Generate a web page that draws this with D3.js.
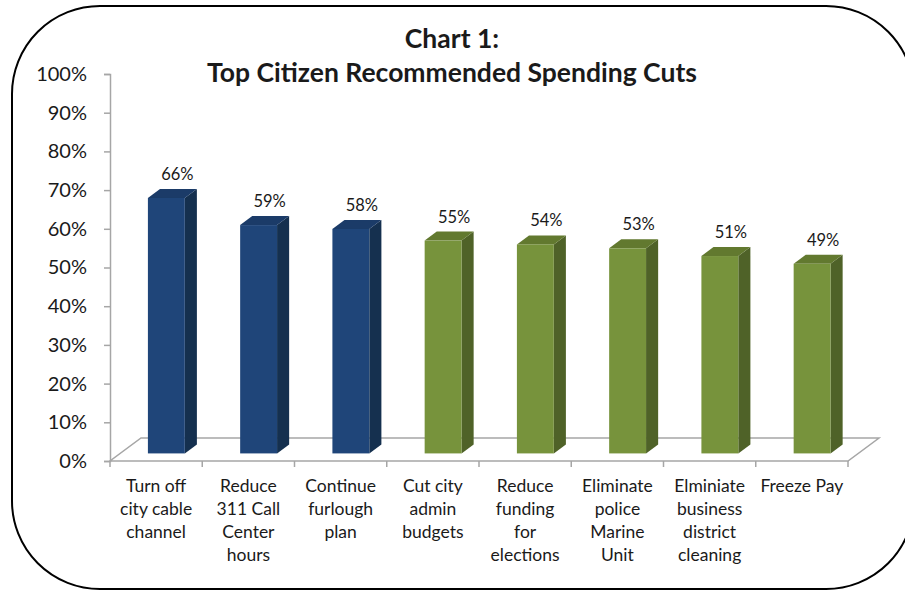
<!DOCTYPE html>
<html>
<head>
<meta charset="utf-8">
<script src="https://cdn.jsdelivr.net/npm/d3@7"></script>
<style>
	body { margin: 0; background: #fff; }
	text { font-family: Lato, "Open Sans", sans-serif; fill: #1a1a1a; }
</style>
</head>
<body>
<div id="chart"></div>
<script>
var categories = [
	["Turn off", "city cable", "channel"],
	["Reduce", "311 Call", "Center", "hours"],
	["Continue", "furlough", "plan"],
	["Cut city", "admin", "budgets"],
	["Reduce", "funding", "for", "elections"],
	["Eliminate", "police", "Marine", "Unit"],
	["Elminiate", "business", "district", "cleaning"],
	["Freeze Pay"]
];
var values = [0.66, 0.59, 0.58, 0.55, 0.54, 0.53, 0.51, 0.49];
var groups = ["blue", "blue", "blue", "green", "green", "green", "green", "green"];
var yTicks = [0, 0.1, 0.2, 0.3, 0.4, 0.5, 0.6, 0.7, 0.8, 0.9, 1.0];
var titleLines = ["Chart 1:", "Top Citizen Recommended Spending Cuts"];

(function() {
	var colors = {
		blue: { front: "#1f4579", side: "#15304f", top: "#1b3b68" },
		green: { front: "#77933c", side: "#4f6228", top: "#62792f" }
	};

	var width = 905, height = 590;
	var pLeft = 110, pRight = 848, pTop = 74, pBottom = 461;
	var depth = { dx: 31, dy: -23 };   // floor depth vector
	var z0 = 0.33, z1 = 0.72;          // bar depth, as fraction of floor

	var svg = d3.select("#chart").append("svg")
		.attr("width", width)
		.attr("height", height);

	// rounded frame
	svg.append("rect")
		.attr("x", 12).attr("y", 6)
		.attr("width", 902).attr("height", 583)
		.attr("rx", 88).attr("ry", 88)
		.attr("fill", "none")
		.attr("stroke", "#000")
		.attr("stroke-width", 2);

	svg.selectAll(".title").data(titleLines).enter()
		.append("text")
		.attr("class", "title")
		.attr("x", 452)
		.attr("y", function(d, i) { return 48 + i * 34; })
		.attr("text-anchor", "middle")
		.style("font-size", "26.5px")
		.style("font-weight", "bold")
		.text(function(d) { return d; });

	var x = d3.scaleBand()
		.domain(d3.range(values.length))
		.range([pLeft, pRight]);

	var y = d3.scaleLinear()
		.domain([0, 1])
		.range([pBottom, pTop]);

	// floor
	var grey = "#a6a6a6";
	var floor = [
		[pLeft, pBottom], [pRight, pBottom],
		[pRight + depth.dx, pBottom + depth.dy], [pLeft + depth.dx, pBottom + depth.dy]
	];
	svg.append("path")
		.attr("d", d3.line()(floor) + "Z")
		.attr("fill", "none")
		.attr("stroke", grey)
		.attr("stroke-width", 1.5);

	// y axis
	var yAxis = d3.axisLeft(y)
		.tickValues(yTicks)
		.tickFormat(d3.format(".0%"))
		.tickSize(6)
		.tickPadding(17);

	var ya = svg.append("g")
		.attr("transform", "translate(" + pLeft + ",0)")
		.call(yAxis);
	ya.select(".domain").attr("stroke", grey).attr("stroke-width", 1.5);
	ya.selectAll(".tick line").attr("stroke", grey).attr("stroke-width", 1.5);
	ya.selectAll(".tick text")
		.style("font-size", "20px")
		.style("font-family", "Lato, sans-serif")
		.attr("fill", "#1a1a1a");

	// x axis ticks on the floor's front edge
	var xa = svg.append("g")
		.attr("transform", "translate(0," + pBottom + ")");
	xa.selectAll("line").data(d3.range(values.length + 1)).enter()
		.append("line")
		.attr("x1", function(i) { return pLeft + i * x.step(); })
		.attr("x2", function(i) { return pLeft + i * x.step(); })
		.attr("y1", 0).attr("y2", 6)
		.attr("stroke", grey)
		.attr("stroke-width", 1.5);

	var labels = xa.selectAll(".cat").data(categories).enter()
		.append("text")
		.attr("class", "cat")
		.attr("text-anchor", "middle")
		.style("font-size", "17.5px");
	labels.selectAll("tspan").data(function(d, i) {
			return d.map(function(s) { return { s: s, i: i }; });
		}).enter()
		.append("tspan")
		.attr("x", function(d) { return x(d.i) + x.bandwidth() / 2; })
		.attr("y", function(d, j) { return 31 + j * 23; })
		.text(function(d) { return d.s; });

	// bars
	var barW = x.bandwidth() * 0.4;
	var fx = depth.dx * z0, fy = depth.dy * z0;
	var sx = depth.dx * (z1 - z0), sy = depth.dy * (z1 - z0);

	function geom(d, i) {
		var cx = x(i) + x.bandwidth() / 2 + fx;
		return {
			x0: cx - barW / 2,
			x1: cx + barW / 2,
			yb: y(0) + fy,
			yt: y(d) + fy
		};
	}

	var bar = svg.selectAll(".bar").data(values).enter()
		.append("g")
		.attr("class", "bar");

	bar.append("path")
		.attr("d", function(d, i) {
			var g = geom(d, i);
			return d3.line()([[g.x1, g.yt], [g.x1 + sx, g.yt + sy], [g.x1 + sx, g.yb + sy], [g.x1, g.yb]]) + "Z";
		})
		.attr("fill", function(d, i) { return colors[groups[i]].side; });

	bar.append("path")
		.attr("d", function(d, i) {
			var g = geom(d, i);
			return d3.line()([[g.x0, g.yt], [g.x1, g.yt], [g.x1 + sx, g.yt + sy], [g.x0 + sx, g.yt + sy]]) + "Z";
		})
		.attr("fill", function(d, i) { return colors[groups[i]].top; });

	bar.append("rect")
		.attr("x", function(d, i) { return geom(d, i).x0; })
		.attr("y", function(d, i) { return geom(d, i).yt; })
		.attr("width", barW)
		.attr("height", function(d, i) { var g = geom(d, i); return g.yb - g.yt; })
		.attr("fill", function(d, i) { return colors[groups[i]].front; });

	bar.append("text")
		.attr("x", function(d, i) { var g = geom(d, i); return (g.x0 + g.x1) / 2 + 11; })
		.attr("y", function(d, i) { return geom(d, i).yt - 18; })
		.attr("text-anchor", "middle")
		.style("font-size", "16.5px")
		.text(function(d) { return d3.format(".0%")(d); });
})();
</script>
</body>
</html>
